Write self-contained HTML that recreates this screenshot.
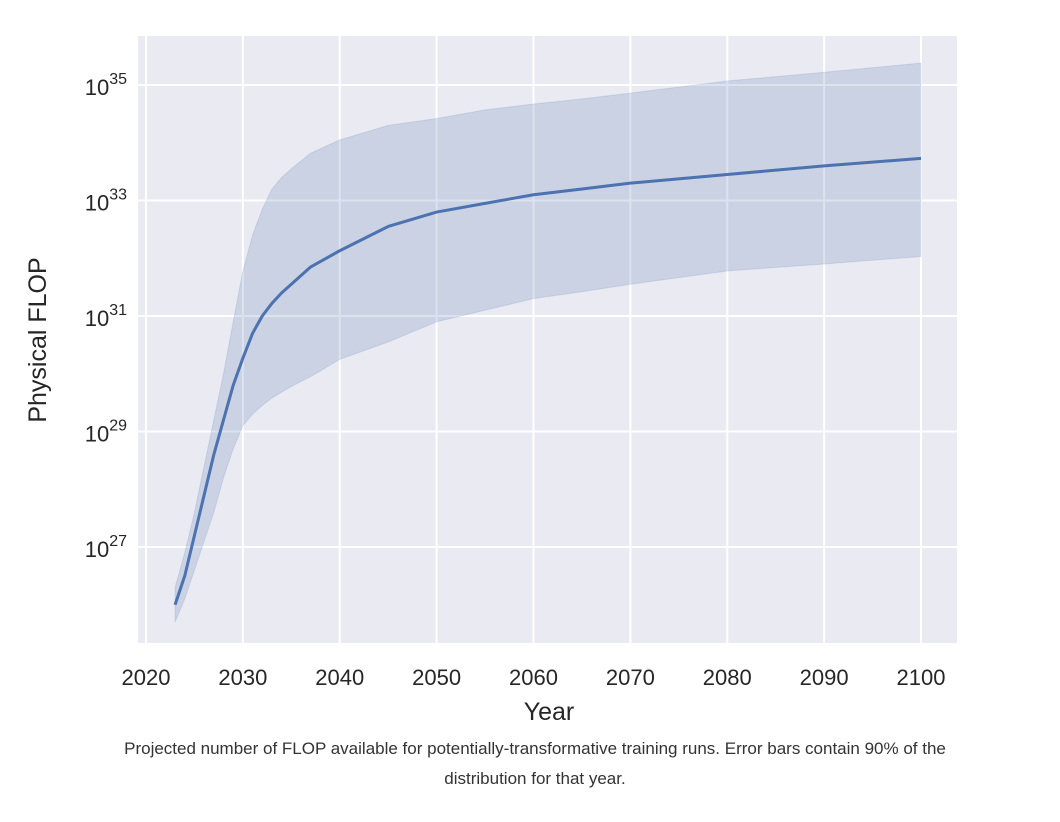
<!DOCTYPE html>
<html><head><meta charset="utf-8"><style>
body{margin:0;background:#fff;width:1060px;height:817px;overflow:hidden;font-family:"Liberation Sans","DejaVu Sans",sans-serif}
</style></head><body>
<svg id="c" width="1060" height="817" xmlns="http://www.w3.org/2000/svg"></svg>
<script>
const years=[2023,2024,2025,2026,2027,2028,2029,2030,2031,2032,2033,2034,2035,2037,2040,2045,2050,2055,2060,2065,2070,2080,2090,2100];
const median=[26.0,26.5,27.2,27.9,28.6,29.2,29.8,30.27,30.7,31.0,31.22,31.4,31.55,31.85,32.13,32.55,32.8,32.95,33.1,33.2,33.3,33.45,33.6,33.73];
const upper=[26.3,26.9,27.6,28.4,29.2,30.0,30.9,31.78,32.4,32.85,33.2,33.4,33.55,33.82,34.05,34.3,34.42,34.57,34.67,34.76,34.86,35.07,35.22,35.38];
const lower=[25.7,26.1,26.6,27.1,27.6,28.2,28.7,29.1,29.3,29.45,29.58,29.68,29.78,29.95,30.25,30.55,30.9,31.1,31.3,31.42,31.55,31.78,31.9,32.03];
const xTicks=[2020,2030,2040,2050,2060,2070,2080,2090,2100];
const yTicks=[27,29,31,33,35];
const NS="http://www.w3.org/2000/svg",svg=document.getElementById('c');
const X=y=>146+(y-2020)*(775/80);
const Y=v=>316-(v-31)*57.75;
function el(t,a,p){const e=document.createElementNS(NS,t);for(const k in a)e.setAttribute(k,a[k]);(p||svg).appendChild(e);return e;}
const bg=el('rect',{x:138,y:36,width:819,height:607,fill:'#eaeaf2'});


xTicks.forEach(t=>{
 const l=el('line',{x1:X(t),x2:X(t),y1:36,y2:643,stroke:'#fff','stroke-width':2});
 
 
 const tx=el('text',{x:X(t),y:685,'text-anchor':'middle','font-size':22,fill:'#262626'});
 tx.textContent=t;
 
 
});
yTicks.forEach(t=>{
 const l=el('line',{x1:138,x2:957,y1:Y(t),y2:Y(t),stroke:'#fff','stroke-width':2});
 
 
 const tx=el('text',{x:127,y:Y(t)+10,'text-anchor':'end','font-size':22,fill:'#262626'});
 tx.innerHTML='10<tspan dy="-11" font-size="16">'+t+'</tspan>';
 
 
});
let d='M'+years.map((y,i)=>X(y)+','+Y(upper[i])).join('L');
for(let i=years.length-1;i>=0;i--)d+='L'+X(years[i])+','+Y(lower[i]);
const band=el('path',{d:d+'Z',fill:'#4c72b0','fill-opacity':0.2,stroke:'#4c72b0','stroke-opacity':0.15});


const ln=el('path',{d:'M'+years.map((y,i)=>X(y)+','+Y(median[i])).join('L'),fill:'none',stroke:'#4c72b0','stroke-width':3,'stroke-linejoin':'round'});


const xt=el('text',{x:549,y:720,'text-anchor':'middle','font-size':25,fill:'#262626'});
xt.textContent='Year';


const yt=el('text',{x:46,y:340,'text-anchor':'middle','font-size':25,fill:'#262626',transform:'rotate(-90 46 340)'});
yt.textContent='Physical FLOP';


const c1=el('text',{x:535,y:754,'text-anchor':'middle','font-size':17,fill:'#333'});
c1.textContent='Projected number of FLOP available for potentially-transformative training runs. Error bars contain 90% of the';


const c2=el('text',{x:535,y:784,'text-anchor':'middle','font-size':17,fill:'#333'});
c2.textContent='distribution for that year.';


</script>
</body></html>
